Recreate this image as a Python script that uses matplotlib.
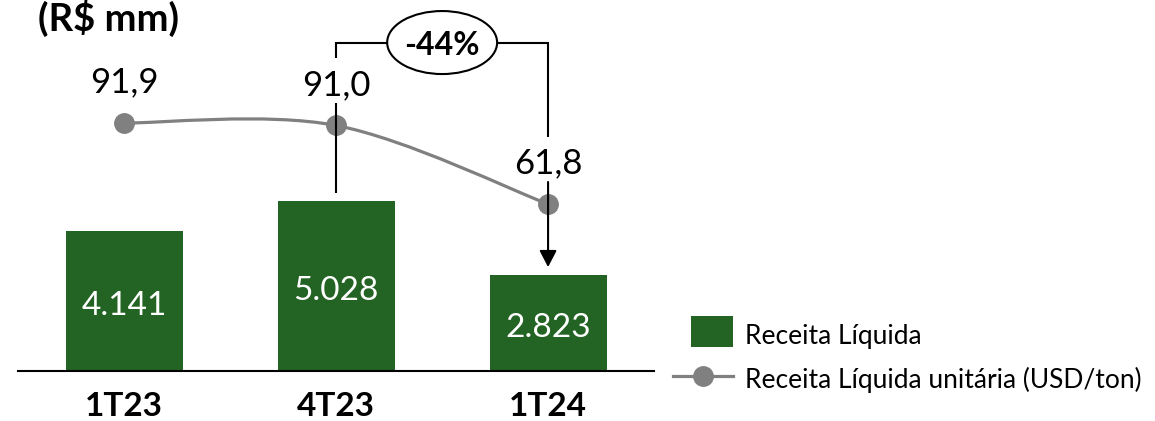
import numpy as np
import matplotlib
matplotlib.use("Agg")
import matplotlib.pyplot as plt
from matplotlib.path import Path
from matplotlib.patches import PathPatch, Ellipse, Rectangle, Patch
from matplotlib.lines import Line2D
from matplotlib.legend_handler import HandlerPatch

plt.rcParams["font.family"] = ["Lato", "DejaVu Sans"]

# Data
categories = ["1T23", "4T23", "1T24"]
receita_liquida = [4141, 5028, 2823]            # R$ mm
receita_unitaria = [91.9, 91.0, 61.8]           # USD/ton
variacao_label = "-44%"
series_names = ["Receita Líquida", "Receita Líquida unitária (USD/ton)"]
title = "(R$ mm)"

GREEN = "#236323"
GRAY = "#808080"

W, H = 1155, 421
fig = plt.figure(figsize=(W / 100, H / 100), dpi=100)


def px_rect(x0, y0, x1, y1):
    return [x0 / W, 1 - y1 / H, (x1 - x0) / W, (y1 - y0) / H]


ax = fig.add_axes(px_rect(18, 0, 654, 370.5))
x = np.arange(len(categories))

bars = ax.bar(x, receita_liquida, width=0.552, color=GREEN, zorder=2)
ax.set_xlim(-0.502, 2.5)
ax.set_ylim(0, 10994)

# Bar values, centred inside each bar
for xi, v in zip(x, receita_liquida):
    ax.annotate(f"{v:,}".replace(",", "."), (xi, v / 2), xytext=(0, -10),
                textcoords="offset points", ha="center", va="baseline",
                color="white", fontsize=24)

for side in ("left", "right", "top"):
    ax.spines[side].set_visible(False)
ax.spines["bottom"].set_linewidth(1.5)
ax.set_yticks([])
ax.set_xticks(x)
ax.set_xticklabels(categories, fontsize=24, fontweight="bold")
ax.tick_params(axis="x", length=0, pad=15.5)

# Secondary axis for the unit revenue line
ax2 = ax.twinx()
ax2.set_ylim(0, 137.6)
ax2.set_yticks([])
for side in ("left", "right", "top", "bottom"):
    ax2.spines[side].set_visible(False)

# Smoothed line through the points (Bezier segments)
pts = list(zip(x.astype(float), receita_unitaria))
n = len(pts)
verts = [pts[0]]
codes = [Path.MOVETO]
for i in range(n - 1):
    p0 = pts[max(i - 1, 0)]
    p1 = pts[i]
    p2 = pts[i + 1]
    p3 = pts[min(i + 2, n - 1)]
    c1 = (p1[0] + (p2[0] - p0[0]) / 6, p1[1] + (p2[1] - p0[1]) / 6)
    c2 = (p2[0] - (p3[0] - p1[0]) / 6, p2[1] - (p3[1] - p1[1]) / 6)
    verts += [c1, c2, p2]
    codes += [Path.CURVE4] * 3
ax2.add_patch(PathPatch(Path(verts, codes), fill=False, edgecolor=GRAY,
                        lw=2.3, zorder=3, capstyle="round"))
ax2.plot(x, receita_unitaria, "o", color=GRAY, ms=14, zorder=4)

for xi, v in zip(x, receita_unitaria):
    ax2.annotate(f"{v:.1f}".replace(".", ","), (xi, v), xytext=(0, 22),
                 textcoords="offset points", ha="center", va="baseline",
                 fontsize=25, zorder=7)

# Variation bracket between 4T23 and 1T24
y_top = 121.8
bracket = dict(color="black", lw=1.5, zorder=5, solid_capstyle="butt",
               solid_joinstyle="miter")
ax2.plot([1, 1, 2, 2], [116.1, y_top, y_top, 86.7], **bracket)
ax2.plot([1, 1], [99.4, 65.9], **bracket)
ax2.annotate("", xy=(2, 38.4), xytext=(2, 70.0),
             arrowprops=dict(arrowstyle="-|>,head_length=1.0,head_width=0.52",
                             color="black", lw=1.5, shrinkA=0, shrinkB=0,
                             mutation_scale=10),
             zorder=5)
ax2.add_patch(Ellipse((1.5, y_top), width=0.519, height=23.4, fc="white",
                      ec="black", lw=1.5, zorder=6))
ax2.text(1.5, 117.2, variacao_label, ha="center", va="baseline", fontsize=23,
         fontweight="bold", zorder=7)

# Title
fig.text(38 / W, 1 - 31 / H, title, fontsize=27.5, fontweight="bold",
         ha="left", va="baseline")


# Legend
def square_patch(legend, orig_handle, xdescent, ydescent, width, height, fontsize):
    w, h = 30.2, 23
    return Rectangle((-xdescent + width - w, -ydescent + (height - h) / 2 + 2.9),
                     w, h)


handles = [Patch(facecolor=GREEN),
           Line2D([], [], color=GRAY, lw=2.3, marker="o", ms=14)]
fig.legend(handles=handles, labels=series_names, loc="upper left",
           bbox_to_anchor=(673 / W, 1 - 322 / H), frameon=False, fontsize=19,
           handlelength=2.27, handleheight=1.2, handletextpad=0.45,
           labelspacing=0.60, borderpad=0, borderaxespad=0,
           handler_map={Patch: HandlerPatch(patch_func=square_patch)})

fig.savefig("out.png", dpi=100)
